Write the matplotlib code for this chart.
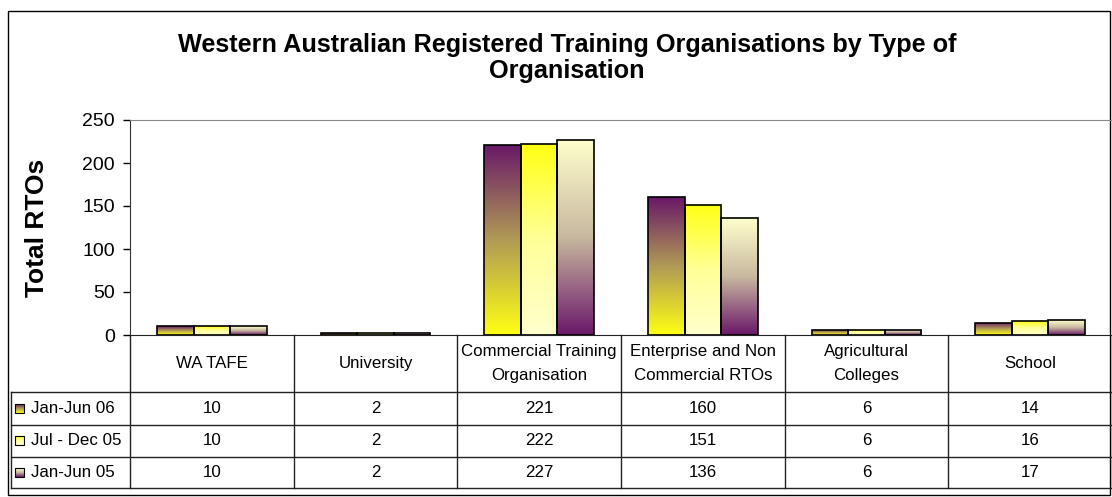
import matplotlib
matplotlib.use('Agg')
import matplotlib.pyplot as plt
import numpy as np
from matplotlib.colors import LinearSegmentedColormap
from matplotlib.patches import Rectangle

plt.rcParams['font.family'] = ['Liberation Sans', 'DejaVu Sans']

# Data
categories = ['WA TAFE', 'University', 'Commercial Training\nOrganisation',
              'Enterprise and Non\nCommercial RTOs', 'Agricultural\nColleges', 'School']
series_labels = ['Jan-Jun 06', 'Jul - Dec 05', 'Jan-Jun 05']
jan_jun_06 = [10, 2, 221, 160, 6, 14]
jul_dec_05 = [10, 2, 222, 151, 6, 16]
jan_jun_05 = [10, 2, 227, 136, 6, 17]
series_values = [jan_jun_06, jul_dec_05, jan_jun_05]
y_ticks = [0, 50, 100, 150, 200, 250]

# gradient fills, listed top -> bottom
purple = '#6A1868'
yellow = '#FFFF14'
pale = '#FFFFCC'
gradients = [
    LinearSegmentedColormap.from_list('s1', [purple, '#B09A55', yellow]),
    LinearSegmentedColormap.from_list('s2', [yellow, '#FFFF99', pale]),
    LinearSegmentedColormap.from_list('s3', [pale, '#C8B8A0', purple]),
]
grad = np.linspace(0, 1, 256).reshape(-1, 1)

W, H = 1112, 497
fig = plt.figure(figsize=(W / 100, H / 100), dpi=100)

# pixel layout
plot_left, plot_right = 130, 1112
plot_top, plot_bottom = 120, 335
col_w = (plot_right - plot_left) / len(categories)
row_lines = [391.7, 424.5, 456.5, 488]
table_left = 11

# overlay in pixel coords for border and data table
ov = fig.add_axes([0, 0, 1, 1])
ov.set_xlim(0, W)
ov.set_ylim(H, 0)
ov.axis('off')
ov.patch.set_alpha(0)

ov.add_patch(Rectangle((8, 11), 1102, 484, fill=False, edgecolor='black', linewidth=1))

line_kw = dict(color='#222222', linewidth=1)
for y in row_lines:
    ov.plot([table_left, plot_right], [y, y], **line_kw)
ov.plot([table_left, table_left], [row_lines[0], row_lines[-1]], **line_kw)
for i in range(len(categories) + 1):
    x = plot_left + i * col_w
    ov.plot([x, x], [plot_bottom, row_lines[-1]], **line_kw)

# header labels
for i, cat in enumerate(categories):
    ov.text(plot_left + (i + 0.5) * col_w, (plot_bottom + row_lines[0]) / 2, cat,
            ha='center', va='center', fontsize=12.2, linespacing=1.75)

# rows of values with legend keys
for r, (lab, vals) in enumerate(zip(series_labels, series_values)):
    yc = (row_lines[r] + row_lines[r + 1]) / 2
    ov.imshow(grad, cmap=gradients[r], aspect='auto',
              extent=(15, 24, yc + 4.5, yc - 4.5), zorder=2)
    ov.add_patch(Rectangle((15, yc - 4.5), 9, 9, fill=False, edgecolor='black',
                           linewidth=0.8, zorder=3))
    ov.text(31, yc, lab, ha='left', va='center', fontsize=12.2)
    for i, v in enumerate(vals):
        ov.text(plot_left + (i + 0.5) * col_w, yc, str(v), ha='center', va='center', fontsize=12.2)
ov.set_xlim(0, W)
ov.set_ylim(H, 0)

# main bar chart
ax = fig.add_axes([plot_left / W, 1 - plot_bottom / H,
                   (plot_right - plot_left) / W, (plot_bottom - plot_top) / H])
ax.patch.set_alpha(0)
x = np.arange(len(categories)) + 0.5
bar_w = 0.224
for s, vals in enumerate(series_values):
    offs = (s - 1) * bar_w
    bars = ax.bar(x + offs, vals, bar_w, facecolor='none', edgecolor='black',
                  linewidth=1.2, zorder=3)
    for b in bars:
        bx, by = b.get_x(), b.get_y()
        bh = b.get_height()
        im = ax.imshow(grad, cmap=gradients[s], aspect='auto',
                       extent=(bx, bx + bar_w, by, by + bh), zorder=2)
        im.set_clip_path(b)

ax.set_xlim(0, len(categories))
ax.set_ylim(0, 250)
ax.set_yticks(y_ticks)
ax.set_xticks([])
ax.tick_params(axis='y', direction='out', length=5, width=1, labelsize=14, pad=6)
ax.spines['right'].set_visible(False)
ax.spines['top'].set_color('#888888')
ax.spines['left'].set_color('#333333')
ax.spines['bottom'].set_color('#222222')
ax.set_ylabel('Total RTOs', fontsize=19, fontweight='bold', labelpad=24)

fig.text(567 / W, 1 - 58 / H,
         'Western Australian Registered Training Organisations by Type of\nOrganisation',
         ha='center', va='center', fontsize=18.2, fontweight='bold', linespacing=1.15)

fig.savefig('out.png', dpi=100)
